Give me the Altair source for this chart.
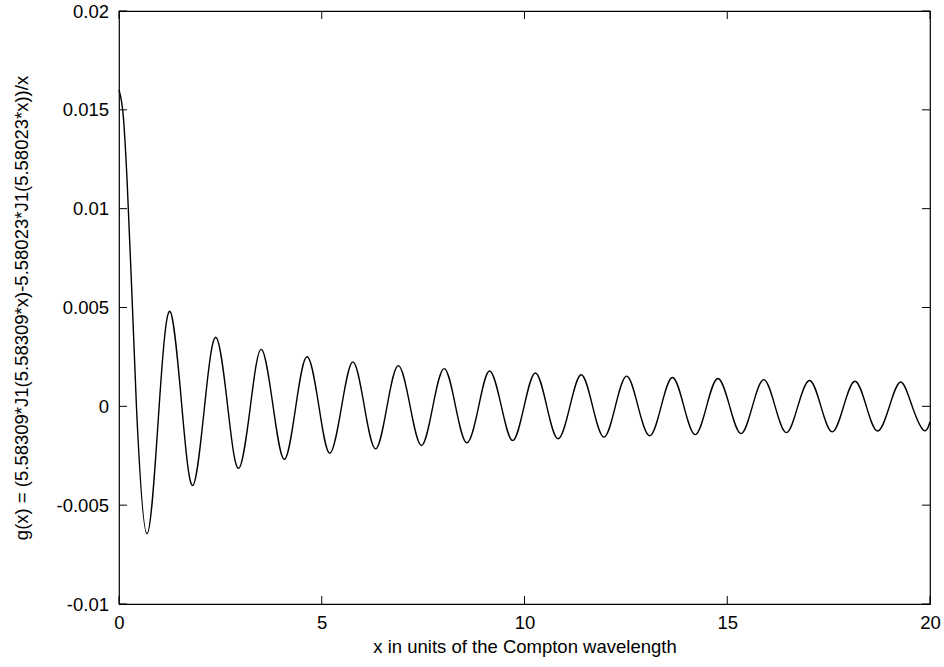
import altair as alt
import pandas as pd

# Points: start of the peak, zero crossings and extrema
x_pts = [0.00, 0.10, 0.20, 0.30, 0.43, 0.69, 0.99, 1.26, 1.55, 1.82, 2.11, 2.39,
         2.68, 2.95, 3.24, 3.51, 3.80, 4.08, 4.36, 4.64, 4.93, 5.20, 5.49, 5.77,
         6.05, 6.33, 6.61, 6.89, 7.18, 7.46, 7.74, 8.02, 8.30, 8.58, 8.87, 9.14,
         9.43, 9.71, 9.99, 10.27, 10.55, 10.83, 11.12, 11.40, 11.68, 11.96, 12.24,
         12.52, 12.80, 13.09, 13.37, 13.65, 13.93, 14.21, 14.49, 14.77, 15.06,
         15.34, 15.62, 15.90, 16.18, 16.46, 16.74, 17.03, 17.31, 17.59, 17.87,
         18.15, 18.43, 18.71, 19.00, 19.28, 19.56, 19.84, 20.00]
g_pts = [0.0160, 0.0148, 0.0114, 0.0066, 0.0, -0.00644, 0.0, 0.00480, 0.0, -0.00400,
         0.0, 0.00349, 0.0, -0.00314, 0.0, 0.00288, 0.0, -0.00268, 0.0, 0.00251,
         0.0, -0.00237, 0.0, 0.00225, 0.0, -0.00215, 0.0, 0.00206, 0.0, -0.00198,
         0.0, 0.00191, 0.0, -0.00184, 0.0, 0.00179, 0.0, -0.00173, 0.0, 0.00169,
         0.0, -0.00164, 0.0, 0.00160, 0.0, -0.00156, 0.0, 0.00153, 0.0, -0.00149,
         0.0, 0.00146, 0.0, -0.00143, 0.0, 0.00141, 0.0, -0.00138, 0.0, 0.00135,
         0.0, -0.00133, 0.0, 0.00131, 0.0, -0.00129, 0.0, 0.00127, 0.0, -0.00125,
         0.0, 0.00123, 0.0, -0.00121, -0.00078]

x_ticks = [0, 5, 10, 15, 20]
y_ticks = [-0.01, -0.005, 0, 0.005, 0.01, 0.015, 0.02]

W, H = 811, 593
FONT = "Liberation Sans"
FS = 18.5

curve = pd.DataFrame({"x": x_pts, "g": g_pts})
xt = pd.DataFrame({"x": x_ticks})
yt = pd.DataFrame({"g": y_ticks})

xscale = alt.Scale(domain=[0, 20], nice=False, zero=False)
yscale = alt.Scale(domain=[-0.01, 0.02], nice=False, zero=False)

x_axis = alt.Axis(
    values=x_ticks, title="x in units of the Compton wavelength",
    domain=False, ticks=False, tickSize=0, grid=False,
    labelFontSize=FS, labelPadding=24, labelBaseline="alphabetic",
    labelFlush=False, labelOverlap=False, labelColor="black", labelFont=FONT,
    titleFontSize=FS, titleFont=FONT, titleFontWeight="normal", titleColor="black",
    titleY=48, titleBaseline="alphabetic", titleX=W / 2, titleAlign="center",
    labelExpr="toString(datum.value)")
y_axis = alt.Axis(
    values=y_ticks,
    title="g(x) = (5.58309*J1(5.58309*x)-5.58023*J1(5.58023*x))/x",
    domain=False, ticks=False, tickSize=0, grid=False,
    labelFontSize=FS, labelPadding=10.5, labelBaseline="middle",
    labelFlush=False, labelOverlap=False, labelColor="black", labelFont=FONT,
    titleFontSize=FS, titleFont=FONT, titleFontWeight="normal", titleColor="black",
    titleAngle=270, titleX=-92, titleY=H / 2, titleAlign="center",
    titleBaseline="alphabetic",
    labelExpr="toString(datum.value)")

line = alt.Chart(curve).mark_line(
    interpolate="natural", color="black", strokeWidth=1.4
).encode(
    x=alt.X("x:Q", scale=xscale, axis=x_axis),
    y=alt.Y("g:Q", scale=yscale, axis=y_axis),
)

tick_len = 8
bottom_ticks = alt.Chart(xt).mark_rule(color="black", strokeWidth=1).encode(
    x=alt.X("x:Q", scale=xscale, axis=x_axis), y=alt.value(H), y2=alt.value(H - tick_len))
top_ticks = alt.Chart(xt).mark_rule(color="black", strokeWidth=1).encode(
    x=alt.X("x:Q", scale=xscale, axis=x_axis), y=alt.value(0), y2=alt.value(tick_len))
left_ticks = alt.Chart(yt).mark_rule(color="black", strokeWidth=1).encode(
    y=alt.Y("g:Q", scale=yscale, axis=y_axis), x=alt.value(0), x2=alt.value(tick_len))
right_ticks = alt.Chart(yt).mark_rule(color="black", strokeWidth=1).encode(
    y=alt.Y("g:Q", scale=yscale, axis=y_axis), x=alt.value(W), x2=alt.value(W - tick_len))

chart = alt.layer(line, bottom_ticks, top_ticks, left_ticks, right_ticks).properties(
    width=W, height=H,
    padding={"left": 119, "top": 11, "right": 14, "bottom": 63},
    autosize=alt.AutoSizeParams(type="none"),
    background="white",
).configure(
    font=FONT
).configure_view(
    stroke="black", strokeWidth=1.2
)

chart.save("out.html", embed_options={"renderer": "svg", "actions": False})
